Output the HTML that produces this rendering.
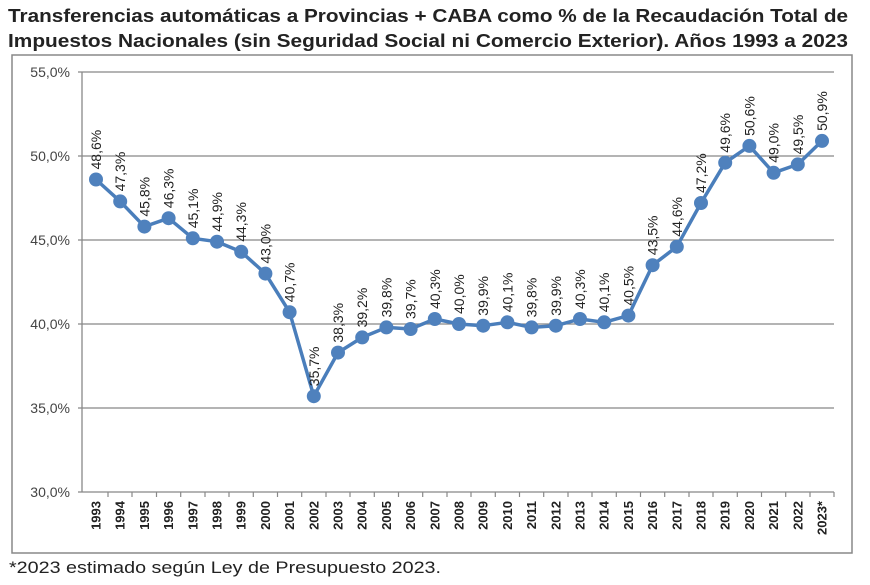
<!DOCTYPE html>
<html><head><meta charset="utf-8"><style>
body{margin:0;background:#fff;width:870px;height:580px;overflow:hidden;font-family:"Liberation Sans",sans-serif}
</style></head><body>
<svg width="870" height="580" xmlns="http://www.w3.org/2000/svg" font-family="Liberation Sans, sans-serif">
<text x="8" y="22" font-size="18" font-weight="bold" fill="#222" textLength="840" lengthAdjust="spacingAndGlyphs">Transferencias automáticas a Provincias + CABA como % de la Recaudación Total de</text>
<text x="8" y="47" font-size="18" font-weight="bold" fill="#222" textLength="840" lengthAdjust="spacingAndGlyphs">Impuestos Nacionales (sin Seguridad Social ni Comercio Exterior). Años 1993 a 2023</text>
<rect x="12" y="55" width="840" height="498" fill="none" stroke="#888" stroke-width="1.5"/>
<g stroke="#888" stroke-width="1.3">
<line x1="78" y1="72" x2="834" y2="72"/>
<line x1="78" y1="156" x2="834" y2="156"/>
<line x1="78" y1="240" x2="834" y2="240"/>
<line x1="78" y1="324" x2="834" y2="324"/>
<line x1="78" y1="408" x2="834" y2="408"/>
<line x1="78" y1="492" x2="834" y2="492"/>
<line x1="82" y1="72" x2="82" y2="492"/>
</g>
<g fill="#444" font-size="14" text-anchor="end">
<text x="70" y="77">55,0%</text><text x="70" y="161">50,0%</text><text x="70" y="245">45,0%</text>
<text x="70" y="329">40,0%</text><text x="70" y="413">35,0%</text><text x="70" y="497">30,0%</text>
</g>
<g stroke="#888" stroke-width="1.2">
<line x1="108" y1="492" x2="108" y2="497"/><line x1="132" y1="492" x2="132" y2="497"/><line x1="156.5" y1="492" x2="156.5" y2="497"/><line x1="180.7" y1="492" x2="180.7" y2="497"/><line x1="205" y1="492" x2="205" y2="497"/><line x1="229" y1="492" x2="229" y2="497"/><line x1="253.3" y1="492" x2="253.3" y2="497"/><line x1="277.5" y1="492" x2="277.5" y2="497"/><line x1="301.7" y1="492" x2="301.7" y2="497"/><line x1="326" y1="492" x2="326" y2="497"/><line x1="350" y1="492" x2="350" y2="497"/><line x1="374.3" y1="492" x2="374.3" y2="497"/><line x1="398.5" y1="492" x2="398.5" y2="497"/><line x1="422.7" y1="492" x2="422.7" y2="497"/><line x1="447" y1="492" x2="447" y2="497"/><line x1="471" y1="492" x2="471" y2="497"/><line x1="495.3" y1="492" x2="495.3" y2="497"/><line x1="519.5" y1="492" x2="519.5" y2="497"/><line x1="543.7" y1="492" x2="543.7" y2="497"/><line x1="568" y1="492" x2="568" y2="497"/><line x1="592" y1="492" x2="592" y2="497"/><line x1="616.3" y1="492" x2="616.3" y2="497"/><line x1="640.5" y1="492" x2="640.5" y2="497"/><line x1="664.7" y1="492" x2="664.7" y2="497"/><line x1="689" y1="492" x2="689" y2="497"/><line x1="713" y1="492" x2="713" y2="497"/><line x1="737.3" y1="492" x2="737.3" y2="497"/><line x1="761.5" y1="492" x2="761.5" y2="497"/><line x1="785.7" y1="492" x2="785.7" y2="497"/><line x1="810" y1="492" x2="810" y2="497"/><line x1="834" y1="492" x2="834" y2="497"/>
</g>
<polyline fill="none" stroke="#4a7ebb" stroke-width="3.5" stroke-linejoin="round" points="96,179.5 120.2,201.4 144.4,226.6 168.6,218.2 192.8,238.3 217,241.7 241.2,251.8 265.4,273.6 289.6,312.2 313.8,396.2 338,352.6 362.2,337.4 386.4,327.4 410.6,329 434.8,319 459,324 483.2,325.7 507.4,322.3 531.6,327.4 555.8,325.7 580,319 604.2,322.3 628.4,315.6 652.6,265.2 676.8,246.7 701,203 725.2,162.7 749.4,145.9 773.6,172.8 797.8,164.4 822,140.9"/>
<g fill="#4f81bd">
<circle cx="96" cy="179.5" r="7"/><circle cx="120.2" cy="201.4" r="7"/><circle cx="144.4" cy="226.6" r="7"/><circle cx="168.6" cy="218.2" r="7"/><circle cx="192.8" cy="238.3" r="7"/><circle cx="217" cy="241.7" r="7"/><circle cx="241.2" cy="251.8" r="7"/><circle cx="265.4" cy="273.6" r="7"/><circle cx="289.6" cy="312.2" r="7"/><circle cx="313.8" cy="396.2" r="7"/><circle cx="338" cy="352.6" r="7"/><circle cx="362.2" cy="337.4" r="7"/><circle cx="386.4" cy="327.4" r="7"/><circle cx="410.6" cy="329" r="7"/><circle cx="434.8" cy="319" r="7"/><circle cx="459" cy="324" r="7"/><circle cx="483.2" cy="325.7" r="7"/><circle cx="507.4" cy="322.3" r="7"/><circle cx="531.6" cy="327.4" r="7"/><circle cx="555.8" cy="325.7" r="7"/><circle cx="580" cy="319" r="7"/><circle cx="604.2" cy="322.3" r="7"/><circle cx="628.4" cy="315.6" r="7"/><circle cx="652.6" cy="265.2" r="7"/><circle cx="676.8" cy="246.7" r="7"/><circle cx="701" cy="203" r="7"/><circle cx="725.2" cy="162.7" r="7"/><circle cx="749.4" cy="145.9" r="7"/><circle cx="773.6" cy="172.8" r="7"/><circle cx="797.8" cy="164.4" r="7"/><circle cx="822" cy="140.9" r="7"/>
</g>
<g fill="#222" font-size="14">
<text transform="translate(101,169.5) rotate(-90)">48,6%</text>
<text transform="translate(125.2,191.4) rotate(-90)">47,3%</text>
<text transform="translate(149.4,216.6) rotate(-90)">45,8%</text>
<text transform="translate(173.6,208.2) rotate(-90)">46,3%</text>
<text transform="translate(197.8,228.3) rotate(-90)">45,1%</text>
<text transform="translate(222,231.7) rotate(-90)">44,9%</text>
<text transform="translate(246.2,241.8) rotate(-90)">44,3%</text>
<text transform="translate(270.4,263.6) rotate(-90)">43,0%</text>
<text transform="translate(294.6,302.2) rotate(-90)">40,7%</text>
<text transform="translate(318.8,386.2) rotate(-90)">35,7%</text>
<text transform="translate(343,342.6) rotate(-90)">38,3%</text>
<text transform="translate(367.2,327.4) rotate(-90)">39,2%</text>
<text transform="translate(391.4,317.4) rotate(-90)">39,8%</text>
<text transform="translate(415.6,319) rotate(-90)">39,7%</text>
<text transform="translate(439.8,309) rotate(-90)">40,3%</text>
<text transform="translate(464,314) rotate(-90)">40,0%</text>
<text transform="translate(488.2,315.7) rotate(-90)">39,9%</text>
<text transform="translate(512.4,312.3) rotate(-90)">40,1%</text>
<text transform="translate(536.6,317.4) rotate(-90)">39,8%</text>
<text transform="translate(560.8,315.7) rotate(-90)">39,9%</text>
<text transform="translate(585,309) rotate(-90)">40,3%</text>
<text transform="translate(609.2,312.3) rotate(-90)">40,1%</text>
<text transform="translate(633.4,305.6) rotate(-90)">40,5%</text>
<text transform="translate(657.6,255.2) rotate(-90)">43,5%</text>
<text transform="translate(681.8,236.7) rotate(-90)">44,6%</text>
<text transform="translate(706,193) rotate(-90)">47,2%</text>
<text transform="translate(730.2,152.7) rotate(-90)">49,6%</text>
<text transform="translate(754.4,135.9) rotate(-90)">50,6%</text>
<text transform="translate(778.6,162.8) rotate(-90)">49,0%</text>
<text transform="translate(802.8,154.4) rotate(-90)">49,5%</text>
<text transform="translate(827,130.9) rotate(-90)">50,9%</text>
</g>
<g fill="#222" font-size="13" font-weight="bold" text-anchor="end">
<text transform="translate(100.5,501) rotate(-90)">1993</text><text transform="translate(124.7,501) rotate(-90)">1994</text><text transform="translate(148.9,501) rotate(-90)">1995</text><text transform="translate(173.1,501) rotate(-90)">1996</text><text transform="translate(197.3,501) rotate(-90)">1997</text><text transform="translate(221.5,501) rotate(-90)">1998</text><text transform="translate(245.7,501) rotate(-90)">1999</text><text transform="translate(269.9,501) rotate(-90)">2000</text><text transform="translate(294.1,501) rotate(-90)">2001</text><text transform="translate(318.3,501) rotate(-90)">2002</text><text transform="translate(342.5,501) rotate(-90)">2003</text><text transform="translate(366.7,501) rotate(-90)">2004</text><text transform="translate(390.9,501) rotate(-90)">2005</text><text transform="translate(415.1,501) rotate(-90)">2006</text><text transform="translate(439.3,501) rotate(-90)">2007</text><text transform="translate(463.5,501) rotate(-90)">2008</text><text transform="translate(487.7,501) rotate(-90)">2009</text><text transform="translate(511.9,501) rotate(-90)">2010</text><text transform="translate(536.1,501) rotate(-90)">2011</text><text transform="translate(560.3,501) rotate(-90)">2012</text><text transform="translate(584.5,501) rotate(-90)">2013</text><text transform="translate(608.7,501) rotate(-90)">2014</text><text transform="translate(632.9,501) rotate(-90)">2015</text><text transform="translate(657.1,501) rotate(-90)">2016</text><text transform="translate(681.3,501) rotate(-90)">2017</text><text transform="translate(705.5,501) rotate(-90)">2018</text><text transform="translate(729.7,501) rotate(-90)">2019</text><text transform="translate(753.9,501) rotate(-90)">2020</text><text transform="translate(778.1,501) rotate(-90)">2021</text><text transform="translate(802.3,501) rotate(-90)">2022</text><text transform="translate(826.5,501) rotate(-90)">2023*</text>
</g>
<text x="9" y="573" font-size="17" fill="#222" textLength="432" lengthAdjust="spacingAndGlyphs">*2023 estimado según Ley de Presupuesto 2023.</text>
</svg>
</body></html>
